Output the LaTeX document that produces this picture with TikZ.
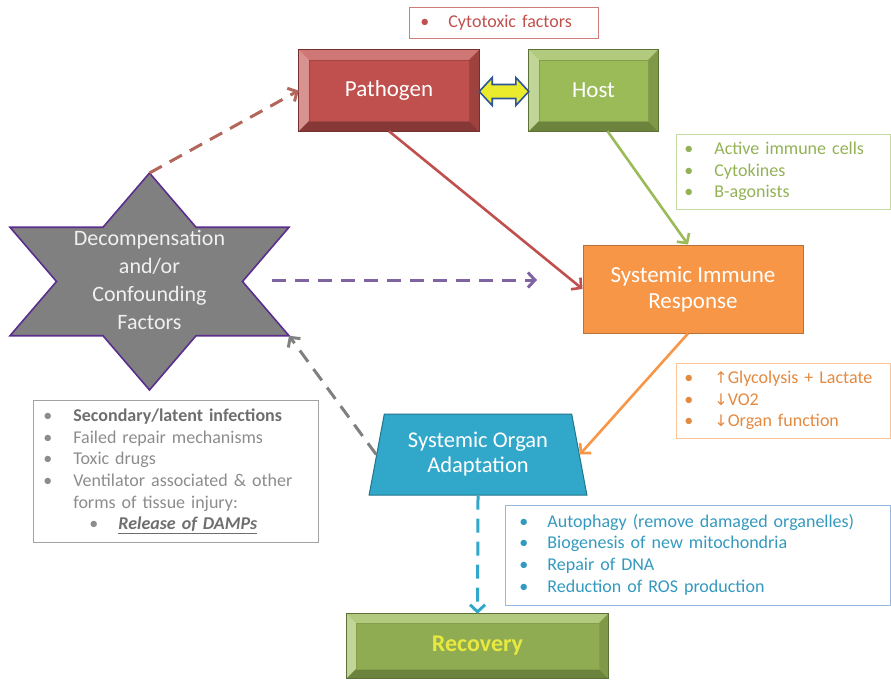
\documentclass[tikz,border=0pt]{standalone}
\usepackage{fontspec}
\setmainfont{Carlito}
\newfontfamily\dvs{DejaVu Sans}
\usetikzlibrary{arrows.meta,calc,shapes.geometric}
\definecolor{cRed}{HTML}{C0504D}
\definecolor{cGreen}{HTML}{9BBB59}
\definecolor{cOrange}{HTML}{F79646}
\definecolor{cBlue}{HTML}{31A7C9}
\definecolor{cBlueText}{HTML}{3499BE}
\definecolor{cBlueBorder}{HTML}{95B9E0}
\definecolor{cPurple}{HTML}{8064A2}
\definecolor{cStarEdge}{HTML}{5B2E8E}
\definecolor{cGray}{HTML}{808080}
\definecolor{cLeftText}{HTML}{8C8C8C}
\definecolor{cLeftDark}{HTML}{6E6E6E}
\definecolor{cBrown}{HTML}{B3675C}
\definecolor{cYellow}{HTML}{EBEB2E}
\definecolor{cNavy}{HTML}{2E5597}
\definecolor{cRecText}{HTML}{E8E840}
\newcommand{\bulx}[1]{\strut\makebox[#1pt][l]{•}}
\newcommand{\bevelfaces}[3]{%
  \fill[#2!78!white] (#1.north west) -- (#1.north east) -- ([shift={(-#3,#3)}]#1.north east) -- ([shift={(#3,#3)}]#1.north west) -- cycle;
  \fill[#2!62!white] (#1.north west) -- ([shift={(#3,#3)}]#1.north west) -- ([shift={(#3,-#3)}]#1.south west) -- (#1.south west) -- cycle;
  \fill[#2!70!black] (#1.south west) -- ([shift={(#3,-#3)}]#1.south west) -- ([shift={(-#3,-#3)}]#1.south east) -- (#1.south east) -- cycle;
  \fill[#2!82!black] (#1.north east) -- ([shift={(-#3,#3)}]#1.north east) -- ([shift={(-#3,-#3)}]#1.south east) -- (#1.south east) -- cycle;
  \draw[#2!60!black, line width=0.7pt] (#1.north west) rectangle (#1.south east);
  \draw[#2!85!black, line width=0.4pt] ([shift={(#3,#3)}]#1.north west) rectangle ([shift={(-#3,-#3)}]#1.south east);
}
\begin{document}
\begin{tikzpicture}[x=1pt,y=-1pt,
  bevelbox/.style={rectangle, inner sep=0pt, font=\fontsize{23}{27}\selectfont, text=white},
  conn/.style={line width=2.6pt, -{Straight Barb[length=7pt,width=15pt]}},
  dconn/.style={conn, line width=3pt, dash pattern=on 14pt off 9pt},
  listbox/.style={draw, line width=0.8pt, anchor=north west, align=left, inner ysep=0pt, font=\fontsize{18}{21.6}\selectfont},
]
\useasboundingbox (0,0) rectangle (891,680);

% ---- star ----
\coordinate (sT) at (149.5,173);
\coordinate (sUR) at (196,227.25);
\coordinate (sTR) at (289,227.25);
\coordinate (sR) at (242.5,281.5);
\coordinate (sBR) at (289,335.75);
\coordinate (sLR) at (196,335.75);
\coordinate (sB) at (149.5,390);
\coordinate (sLL) at (103,335.75);
\coordinate (sBL) at (10,335.75);
\coordinate (sL) at (56.5,281.5);
\coordinate (sTL) at (10,227.25);
\coordinate (sUL) at (103,227.25);
\draw[fill=cGray, draw=cStarEdge, line width=1.6pt, line join=miter]
  (sT) -- (sUR) -- (sTR) -- (sR) -- (sBR) -- (sLR) -- (sB) -- (sLL) -- (sBL) -- (sL) -- (sTL) -- (sUL) -- cycle;
\node[align=center, text=white!88!gray, font=\fontsize{22}{28}\selectfont] (star) at (149.5,280)
  {Decompensation\\and/or\\Confounding\\Factors};

% ---- main boxes ----
\node[bevelbox, fill=cRed, minimum width=180, minimum height=81] (pathogen) at (389,90.5) {Pathogen};
\bevelfaces{pathogen}{cRed}{10}
\node[bevelbox, fill=cGreen, minimum width=129, minimum height=81] (host) at (593.5,90.5) {Host};
\bevelfaces{host}{cGreen}{10}
\node[bevelbox, fill=cGreen!92!black, minimum width=261, minimum height=64, text=cRecText,
      font=\bfseries\fontsize{24}{28}\selectfont] (recovery) at (477.5,646) {Recovery};
\bevelfaces{recovery}{cGreen}{9}

\node[rectangle, fill=cOrange, draw=cOrange!75!black, line width=1pt, minimum width=220, minimum height=88,
      align=center, text=white, font=\fontsize{23}{26}\selectfont] (sir) at (693,289) {Systemic Immune\\Response};

\node[trapezium, trapezium left angle=76.8, trapezium right angle=76.8, trapezium stretches=true,
      minimum width=218, minimum height=81, fill=cBlue, draw=cBlue!70!black, line width=1pt,
      text=white, align=center, font=\fontsize{22.5}{25}\selectfont] (soa) at (478,454.5) {Systemic Organ\\Adaptation};

% ---- double arrow pathogen <-> host ----
\coordinate (dl) at (pathogen.east);
\coordinate (dr) at (host.west);
\draw[fill=cYellow, draw=cNavy, line width=1.6pt, line join=miter]
  ($(dl)+(0,1)$) -- ($(dl)+(13,-13)$) -- ($(dl)+(13,-6)$) -- ($(dr)+(-13,-6)$) -- ($(dr)+(-13,-13)$)
  -- ($(dr)+(0,1)$) -- ($(dr)+(-13,15)$) -- ($(dr)+(-13,8)$) -- ($(dl)+(13,8)$) -- ($(dl)+(13,15)$) -- cycle;

% ---- text boxes ----
\node[listbox, draw=cRed!75!white, text=cRed, text width=167, inner xsep=11, minimum height=31] (cyto) at (409,7)
  {\bulx{28}Cytotoxic factors};
\node[listbox, draw=cGreen!55!white, text=cGreen!95!black, text width=198, inner xsep=8, minimum height=75] (gbox) at (676,134)
  {\bulx{30}Active immune cells\\\bulx{30}Cytokines\\\bulx{30}B-agonists};
\node[listbox, draw=cOrange!55!white, text=cOrange!92!black, text width=198, inner xsep=8, minimum height=75] (obox) at (676,363)
  {\bulx{30}{\dvs\fontsize{16}{21.6}\selectfont↑}Glycolysis + Lactate\\\bulx{30}{\dvs\fontsize{16}{21.6}\selectfont↓}VO2\\\bulx{30}{\dvs\fontsize{16}{21.6}\selectfont↓}Organ function};
\node[listbox, draw=cBlueBorder, text=cBlueText, text width=357, inner xsep=14, minimum height=100] (bbox) at (505,505)
  {\bulx{28}Autophagy (remove damaged organelles)\\\bulx{28}Biogenesis of new mitochondria\\\bulx{28}Repair of DNA\\\bulx{28}Reduction of ROS production};
\node[listbox, draw=cLeftText!80!white, text=cLeftText, text width=265, inner xsep=10, minimum height=142] (lbox) at (33,400)
  {\bulx{30}{\bfseries\color{cLeftDark}Secondary/latent infections}\\
   \bulx{30}Failed repair mechanisms\\
   \bulx{30}Toxic drugs\\
   \bulx{30}Ventilator associated \& other\\
   \strut\hspace*{30pt}forms of tissue injury:\\
   \hspace*{46pt}\bulx{29}{\color{cLeftDark}\bfseries\itshape\underline{Release of DAMPs}}};

% ---- connectors ----
\coordinate (pstart) at (272,280);
\coordinate (pend) at (537,280);
\draw[conn, cRed] (pathogen.south) -- (sir.west);
\draw[conn, cGreen] ($(host.south)+(14,0)$) -- ($(sir.north)+(-5,0)$);
\draw[conn, cOrange] ($(sir.south)+(-5,0)$) -- (soa.east);
\draw[dconn, cBrown] (sT) -- (pathogen.west);
\draw[dconn, cPurple] (pstart) -- (pend);
\draw[dconn, cGray] (soa.west) -- (sBR);
\draw[dconn, cBlue] (soa.south) -- (recovery.north);
\end{tikzpicture}
\end{document}
